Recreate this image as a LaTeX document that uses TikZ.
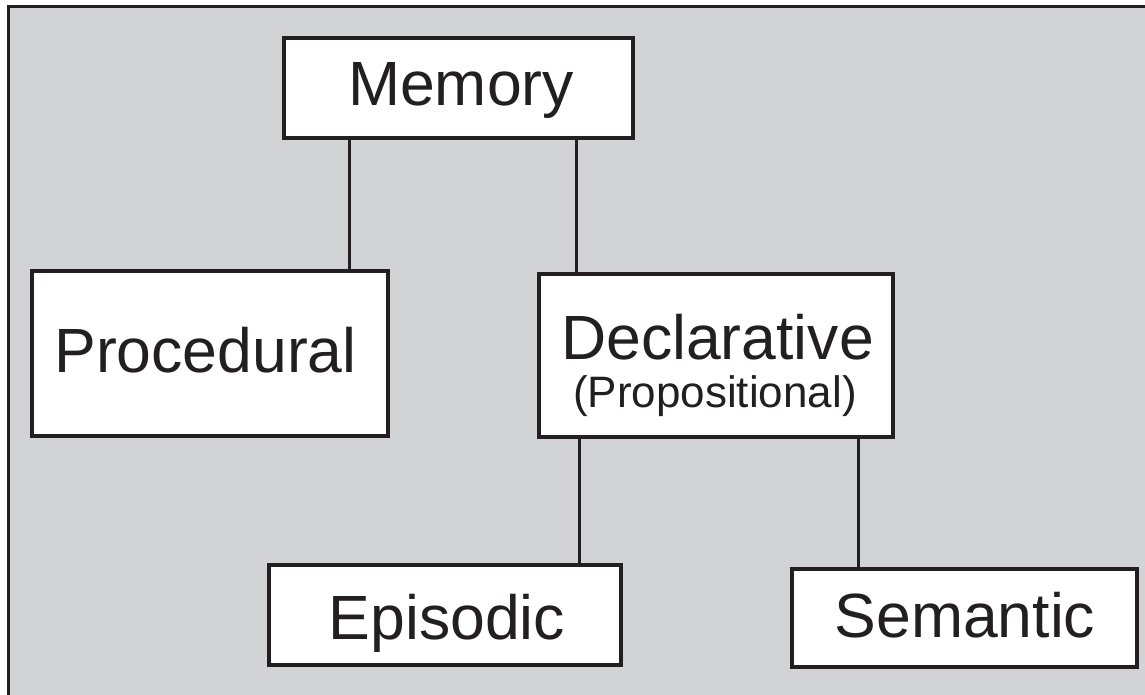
\documentclass[tikz,border=0pt]{standalone}
\usepackage{fontspec}
\setmainfont{Liberation Sans}
\definecolor{ink}{RGB}{35,31,32}
\definecolor{panel}{RGB}{209,211,212}
\tikzset{
  box/.style={draw=ink, line width=3.5pt, fill=white, rectangle, inner sep=0pt},
  big/.style={font=\fontsize{62.5}{70}\selectfont, text=ink, inner sep=0pt, anchor=base},
  small/.style={font=\fontsize{44}{50}\selectfont, text=ink, inner sep=0pt, anchor=base},
  link/.style={draw=ink, line width=3pt},
}
\begin{document}
\begin{tikzpicture}[x=1pt,y=-1pt]
\useasboundingbox (0,0) rectangle (1145,694);
\clip (0,0) rectangle (1145,694);
\fill[white] (0,0) rectangle (1145,694);
\draw[draw=ink, fill=panel, line width=3.2pt] (8.5,6.5) rectangle (1170,720);
% boxes
\node[box, minimum width=349pt, minimum height=100pt] (mem) at (458.5,88) {};
\node[box, minimum width=356pt, minimum height=165pt] (proc) at (210,353.5) {};
\node[box, minimum width=354pt, minimum height=163pt] (decl) at (716,355.5) {};
\node[box, minimum width=352pt, minimum height=100pt] (epi) at (445,615) {};
\node[box, minimum width=345pt, minimum height=98pt] (sem) at (964.5,618) {};
% column coordinates
\coordinate (c1) at (349,0);
\coordinate (c2) at (576,0);
\coordinate (c3) at (579,0);
\coordinate (c4) at (858.5,0);
% connectors
\draw[link] (mem.south -| c1) -- (proc.north -| c1);
\draw[link] (mem.south -| c2) -- (decl.north -| c2);
\draw[link] (decl.south -| c3) -- (epi.north -| c3);
\draw[link] (decl.south -| c4) -- (sem.north -| c4);
% texts
\node[big] (tmem) at (461,105) {Memory};
\node[big] (tproc) at (205.5,372) {Procedural};
\node[big] (tdecl) at (717.5,359) {Declarative};
\node[small] (tprop) at (715,407) {(Propositional)};
\node[big] (tepi) at (447,639) {Episodic};
\node[big] (tsem) at (965,637) {Semantic};
\end{tikzpicture}
\end{document}
